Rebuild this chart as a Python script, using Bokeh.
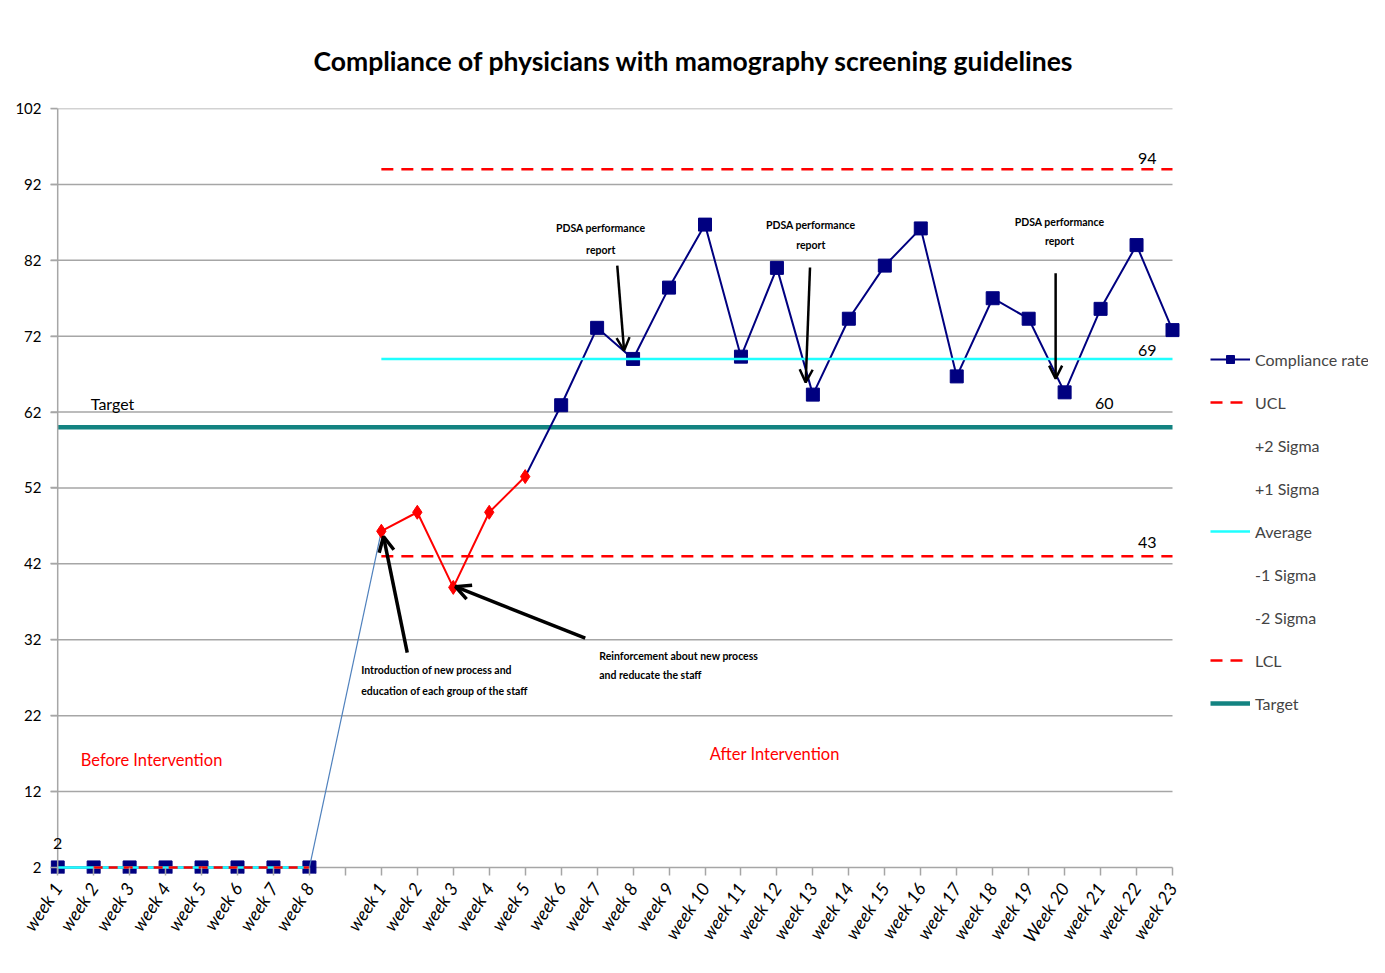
import math
from bokeh.plotting import figure
from bokeh.models import (Range1d, FixedTicker, Legend, LegendItem, Label, Arrow,
                          OpenHead, Span)
from bokeh.embed import file_html
from bokeh.resources import INLINE

# ---------------- data ----------------
before_labels = ["week 1", "week 2", "week 3", "week 4", "week 5", "week 6", "week 7", "week 8"]
after_labels = ["week 1", "week 2", "week 3", "week 4", "week 5", "week 6", "week 7", "week 8",
                "week 9", "week 10", "week 11", "week 12", "week 13", "week 14", "week 15",
                "week 16", "week 17", "week 18", "week 19", "Week 20", "week 21", "week 22",
                "week 23"]
before_rate = [2, 2, 2, 2, 2, 2, 2, 2]
after_rate = [46.3, 48.8, 38.9, 48.8, 53.5, 62.9, 73.1, 69.0, 78.4, 86.7, 69.3, 81.0,
              64.3, 74.3, 81.3, 86.2, 66.7, 77.0, 74.3, 64.6, 75.6, 84.0, 72.8]
before_average = 2
before_ucl = 2
ucl_value = 94
lcl_value = 43
average_value = 69
target_value = 60
y_ticks = [2, 12, 22, 32, 42, 52, 62, 72, 82, 92, 102]
legend_labels = ["Compliance rate", "UCL", "+2 Sigma", "+1 Sigma", "Average",
                 "-1 Sigma", "-2 Sigma", "LCL", "Target"]

FONT = "Lato"
NAVY = "#000080"
RED = "#FF0000"
CYAN = "#1FFFFF"
TEAL = "#138381"
GRID = "#a6a6a6"

categories = before_labels + [""] + after_labels
n = len(categories)
before_x = list(range(len(before_labels)))
after_x = list(range(len(before_labels) + 1, n))

X_LO, X_HI = -0.2, 36.45
p = figure(width=1377, height=965,
           x_range=Range1d(X_LO, X_HI), y_range=Range1d(1.2, 102),
           output_backend="svg", toolbar_location=None,
           min_border_left=50, min_border_right=9,
           min_border_top=108, min_border_bottom=92,
           title="Compliance of physicians with mamography screening guidelines")
p.outline_line_color = None
p.background_fill_color = "white"
p.border_fill_color = "white"

p.title.align = "left"
p.title.offset = 263
p.title.standoff = 64
p.title.text_font = FONT
p.title.text_font_size = "26.5px"
p.title.text_font_style = "bold"
p.title.text_color = "black"

# grid (drawn as segments so it stops at the last week)
p.xgrid.visible = False
p.ygrid.visible = False
p.segment(x0=[X_LO] * len(y_ticks), y0=y_ticks, x1=[after_x[-1]] * len(y_ticks), y1=y_ticks,
          line_color=GRID, line_width=1.5)

# y axis
p.yaxis.ticker = FixedTicker(ticks=y_ticks)
p.yaxis.axis_line_color = None
p.yaxis.major_tick_in = 7
p.yaxis.major_tick_out = 0
p.yaxis.major_tick_line_color = GRID
p.yaxis.major_tick_line_width = 1.5
p.yaxis.minor_tick_line_color = None
p.yaxis.major_label_text_font = FONT
p.yaxis.major_label_text_font_size = "15px"
p.yaxis.major_label_text_color = "black"
p.yaxis.major_label_standoff = 9

# x axis
p.xaxis.ticker = FixedTicker(ticks=list(range(n)))
p.xaxis.major_label_overrides = {i: lab for i, lab in enumerate(categories)}
p.xaxis.axis_line_color = None
p.xaxis.major_tick_in = 6
p.xaxis.major_tick_out = 2
p.xaxis.major_tick_line_color = GRID
p.xaxis.major_tick_line_width = 1.5
p.xaxis.minor_tick_line_color = None
p.xaxis.major_label_orientation = 0.98
p.xaxis.major_label_text_font = FONT
p.xaxis.major_label_text_font_size = "18px"
p.xaxis.major_label_text_font_style = "italic"
p.xaxis.major_label_text_color = "black"
p.xaxis.major_label_standoff = 9

p.add_layout(Span(location=before_x[0], dimension="height", line_color=GRID, line_width=1.5))

# target
r_target = p.line([before_x[0], after_x[-1]], [target_value, target_value],
                  line_color=TEAL, line_width=4.5)

# before series
r_before_line = p.line(before_x, before_rate, line_color=NAVY, line_width=2)
p.scatter(before_x, before_rate, marker="square", size=13, fill_color=NAVY, line_color=NAVY)
p.line(before_x, [before_average] * len(before_x), line_color=CYAN, line_width=2.5)
p.line(before_x[1:], [before_ucl] * len(before_x[1:]), line_color=RED, line_width=2.5,
       line_dash="9 6")

# connector
p.line([before_x[-1], after_x[0]], [before_rate[-1], after_rate[0]],
       line_color="#4F81BD", line_width=1.2)

# after series
r_navy_line = p.line(after_x[4:], after_rate[4:], line_color=NAVY, line_width=2)
p.line(after_x[:5], after_rate[:5], line_color=RED, line_width=2)
p.scatter(after_x[:5], after_rate[:5], marker="diamond", size=14, fill_color=RED, line_color=RED)
r_navy_sq = p.scatter(after_x[5:], after_rate[5:], marker="square", size=13,
                      fill_color=NAVY, line_color=NAVY)

r_avg = p.line([after_x[0], after_x[-1]], [average_value, average_value],
               line_color=CYAN, line_width=2.5)
r_ucl = p.line([after_x[0], after_x[-1]], [ucl_value, ucl_value], line_color=RED,
               line_width=2.5, line_dash="12 8")
r_lcl = p.line([after_x[0], after_x[-1]], [lcl_value, lcl_value], line_color=RED,
               line_width=2.5, line_dash="12 8")
r_dummy = p.line([], [], line_alpha=0)

# value labels
def lab(x, y, text, size="15px", align="center", color="black", style="normal"):
    p.add_layout(Label(x=x, y=y, text=text, text_font=FONT, text_font_size=size,
                       text_align=align, text_baseline="middle", text_color=color,
                       text_font_style=style))

lab(after_x[-1] - 0.7, ucl_value + 1.4, str(ucl_value), size="16px")
lab(after_x[-1] - 0.7, average_value + 1.1, str(average_value), size="16px")
lab(after_x[-1] - 1.9, target_value + 3.1, str(target_value), size="16px")
lab(after_x[-1] - 0.7, lcl_value + 1.8, str(lcl_value), size="16px")
lab(before_x[0], before_rate[0] + 3.2, str(before_rate[0]), size="16px")
lab(before_x[0] + 0.92, target_value + 3.1, "Target", size="16px", align="left")

lab(0.64, 16.2, "Before Intervention", size="16.5px", align="left", color=RED)
lab(19.94, 17.0, "After Intervention", size="16.5px", color=RED)

# PDSA notes
for tx, ty1, ty2 in [(15.1, 86.2, 83.4), (20.94, 86.6, 84.0), (27.86, 87.1, 84.5)]:
    lab(tx, ty1, "PDSA performance", size="10.5px", style="bold")
    lab(tx, ty2, "report", size="10.5px", style="bold")

lab(8.44, 28.0, "Introduction of new process and", size="10.5px", align="left", style="bold")
lab(8.44, 25.3, "education of each group of the staff", size="10.5px", align="left", style="bold")
lab(15.06, 29.9, "Reinforcement about new process", size="10.5px", align="left", style="bold")
lab(15.06, 27.3, "and reducate the staff", size="10.5px", align="left", style="bold")

# arrows
for (xs, ys, xe, ye) in [(15.56, 81.3, 15.75, 70.1), (20.92, 81.05, 20.8, 65.9),
                         (27.75, 80.3, 27.75, 66.4)]:
    p.add_layout(Arrow(x_start=xs, y_start=ys, x_end=xe, y_end=ye, line_width=2.5,
                       line_color="black",
                       end=OpenHead(size=13, line_width=2.5, line_color="black")))
for (xs, ys, xe, ye) in [(9.72, 30.3, 9.06, 45.6), (14.67, 32.2, 11.06, 39.0)]:
    p.add_layout(Arrow(x_start=xs, y_start=ys, x_end=xe, y_end=ye, line_width=3.5,
                       line_color="black",
                       end=OpenHead(size=15, line_width=3.5, line_color="black")))

# legend
renderers = [[r_navy_line, r_navy_sq], [r_ucl], [r_dummy], [r_dummy], [r_avg],
             [r_dummy], [r_dummy], [r_lcl], [r_target]]
items = [LegendItem(label=l, renderers=r) for l, r in zip(legend_labels, renderers)]
legend = Legend(items=items, location=(1160, 160), margin=0, padding=0,
                border_line_color=None, background_fill_alpha=0,
                label_text_font=FONT, label_text_font_size="16px",
                glyph_width=40, glyph_height=20, label_height=20, spacing=23,
                label_standoff=5)
p.add_layout(legend)

open("out.html", "w").write(file_html(p, INLINE))
